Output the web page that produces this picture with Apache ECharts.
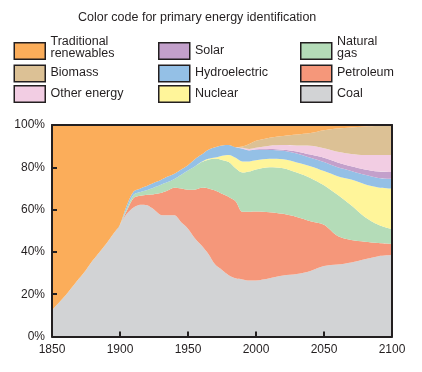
<!DOCTYPE html>
<html><head><meta charset="utf-8">
<script src="https://cdn.jsdelivr.net/npm/echarts@6/dist/echarts.min.js"></script>
<style>html,body{margin:0;padding:0;background:#fff}#c{width:422px;height:372px}</style>
</head><body><div id="c"></div>
<script>
var years = [1850,1855,1860,1865,1870,1875,1880,1885,1890,1895,1900,1905,1910,1915,1920,1925,1930,1935,1940,1945,1950,1955,1960,1965,1970,1975,1980,1985,1990,1995,2000,2010,2020,2030,2040,2050,2060,2070,2080,2090,2100];
var coal =        [12.5,16,19.5,23.5,27.5,31.5,36,40,44,48.5,53,58,61,62.3,62,60,57.5,57.3,57.3,54,51,46.5,43,39,34,31.5,29,27.5,27,26.5,26.5,27.5,28.8,29.5,31,33.3,34,35,36.5,38,38.5];
var petroleum =   [0,0,0,0,0,0,0,0,0,0,0,1.5,4.5,4.2,5,7.3,10.3,11.7,13,16,18.4,22.9,27.3,31,35,36,37,36.5,32,32.5,32.6,31.3,29.2,27,23.5,19.5,13.5,10.6,8.3,6.2,5.3];
var naturalGas =  [0,0,0,0,0,0,0,0,0,0,0,1,1.5,1.8,2.3,3.2,4,4,4.2,6.5,9.1,11,12.2,13.6,15,16,16.5,15.5,18.5,19,19.9,21.2,21.6,21,20.5,18.7,19.5,16.4,11.7,8.6,6.9];
var nuclear =     [0,0,0,0,0,0,0,0,0,0,0,0,0,0,0,0,0,0,0,0,0,0,0.1,0.4,0.6,2,3.3,5,5.3,4.8,4.3,4,4.2,4.8,5.5,6.7,8.8,12.2,15.5,17.7,19.3];
var hydro =       [0,0,0,0,0,0,0,0,0,0,0,1.5,1.5,1.7,2,2.2,2.2,2.6,2.5,2.5,2.5,3.4,3.4,4.3,4.9,4.8,4.7,5,6,5.2,5,4.2,4,4.2,4,4.3,4.2,4.1,4.5,4.5,4.6];
var solar =       [0,0,0,0,0,0,0,0,0,0,0,0,0,0,0,0,0,0,0,0,0,0,0,0,0,0,0,0,0.1,0.1,0.2,0.4,0.5,1,1.5,2,2.3,2.2,2.5,3,3.2];
var otherEnergy = [0,0,0,0,0,0,0,0,0,0,0,0,0,0,0,0,0,0,0,0,0,0,0,0,0,0,0,0,0.3,0.5,0.7,1.6,2.2,2.8,4.2,4.5,5,5.8,6.8,7.8,8];
var biomass =     [0,0,0,0,0,0,0,0,0,0,0,0,0,0,0,0,0,0,0,0,0,0,0,0,0,0,0,0,0.6,2.4,3.3,3.8,4.3,5.2,6,8.5,11,12.5,13.5,13.9,14.2];
var traditional = [87.5,84,80.5,76.5,72.5,68.5,64,60,56,51.5,47,38,31.5,30,28.7,27.3,26,24.4,23,21,19,16.2,14,11.7,10.5,9.7,9.5,10.5,10.2,9,7.5,6,5.2,4.5,3.8,2.5,1.7,1.2,0.7,0.3,0];
var xTicks = [1850,1900,1950,2000,2050,2100];
var yTicks = [0,20,40,60,80,100];
var legendTitle = 'Color code for primary energy identification';

var ink = '#231f20';
var font = 'Liberation Sans, Arial, sans-serif';
var seriesDefs = [
  {name:'Coal', data:coal, color:'#d2d3d5', label:'Coal'},
  {name:'Petroleum', data:petroleum, color:'#f5977a', label:'Petroleum'},
  {name:'Natural gas', data:naturalGas, color:'#b4dcb8', label:'Natural\ngas'},
  {name:'Nuclear', data:nuclear, color:'#fff59a', label:'Nuclear'},
  {name:'Hydroelectric', data:hydro, color:'#94c0e6', label:'Hydroelectric'},
  {name:'Solar', data:solar, color:'#c3a0cb', label:'Solar'},
  {name:'Other energy', data:otherEnergy, color:'#f2cde3', label:'Other energy'},
  {name:'Biomass', data:biomass, color:'#dcc195', label:'Biomass'},
  {name:'Traditional renewables', data:traditional, color:'#fbad5a', label:'Traditional\nrenewables'}
];
// legend grid: column, row
var legendCell = {
  'Traditional renewables':[0,0], 'Biomass':[0,1], 'Other energy':[0,2],
  'Solar':[1,0], 'Hydroelectric':[1,1], 'Nuclear':[1,2],
  'Natural gas':[2,0], 'Petroleum':[2,1], 'Coal':[2,2]
};
var colBox = [13.5, 158, 300];
var colText = [50.5, 195, 337];
var rowTop = [42, 64.5, 85];

var graphics = [];
seriesDefs.forEach(function(s){
  var c = legendCell[s.name];
  var multi = s.label.indexOf('\n') >= 0;
  graphics.push({type:'rect', left:colBox[c[0]], top:rowTop[c[1]], z:100,
    shape:{width:31, height:16.5},
    style:{fill:s.color, stroke:ink, lineWidth:1.5}});
  graphics.push({type:'text', x:colText[c[0]], y:rowTop[c[1]] + 8.25 + (multi ? -3 : 0), z:100,
    style:{text:s.label, font:'12.5px ' + font, fill:ink, textVerticalAlign:'middle',
      verticalAlign:'middle', lineHeight:12}});
});

var chart = echarts.init(document.getElementById('c'), null, {renderer:'canvas'});
chart.setOption({
  animation:false,
  title:{text:legendTitle, left:78, top:11, padding:0,
    textStyle:{fontFamily:font, fontSize:12.5, fontWeight:'normal', color:ink}},
  graphic:graphics,
  grid:{left:52, top:125, width:340, height:211.5},
  xAxis:[{type:'value', min:1850, max:2100, interval:50, z:10,
    axisLine:{show:true, lineStyle:{color:ink, width:2}},
    axisTick:{show:true, inside:true, length:5, lineStyle:{color:ink, width:2}},
    axisLabel:{margin:7, color:ink, fontFamily:font, fontSize:12,
      formatter:function(v){return xTicks.indexOf(v)>=0 ? String(v) : '';}},
    splitLine:{show:false}},
   {type:'value', position:'top', min:1850, max:2100, z:10,
    axisLine:{show:true, onZero:false, lineStyle:{color:ink, width:2}},
    axisTick:{show:false}, axisLabel:{show:false}, splitLine:{show:false}}],
  yAxis:[{type:'value', min:0, max:100, interval:20, z:10,
    axisLine:{show:true, lineStyle:{color:ink, width:2}},
    axisTick:{show:true, inside:true, length:5, lineStyle:{color:ink, width:2}},
    axisLabel:{margin:7, color:ink, fontFamily:font, fontSize:12,
      formatter:function(v){return yTicks.indexOf(v)>=0 ? v+'%' : '';}},
    splitLine:{show:false}},
   {type:'value', position:'right', min:0, max:100, z:10,
    axisLine:{show:true, onZero:false, lineStyle:{color:ink, width:2}},
    axisTick:{show:false}, axisLabel:{show:false}, splitLine:{show:false}}],
  series:seriesDefs.map(function(s){
    return {
      name:s.name, type:'line', stack:'total', smooth:0.3, showSymbol:false, symbol:'none',
      // value first so the library stacks the share, year second for the x axis
      data:years.map(function(y,i){return [s.data[i], y];}),
      encode:{x:1, y:0},
      itemStyle:{color:s.color},
      lineStyle:{width:0, color:s.color},
      areaStyle:{color:s.color, opacity:1},
      emphasis:{disabled:true}, silent:true
    };
  })
});
</script></body></html>
